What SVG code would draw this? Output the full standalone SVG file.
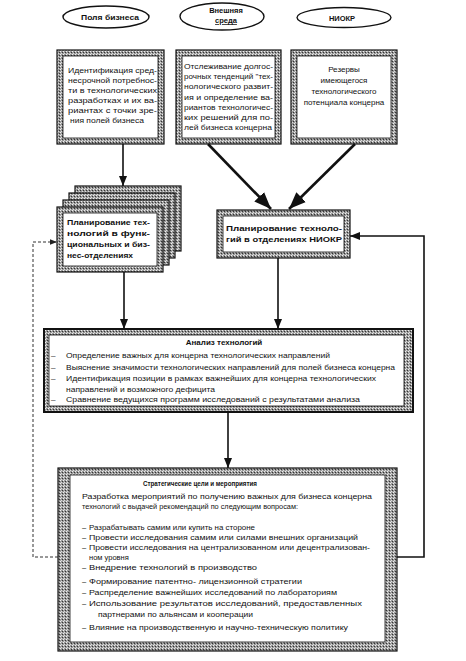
<svg xmlns="http://www.w3.org/2000/svg" width="466" height="661" viewBox="0 0 466 661">
<style>
text{font-family:"Liberation Sans","DejaVu Sans",Arial,sans-serif;fill:#111}
.t{font-size:8px}
.b{font-size:8px;font-weight:bold}
.s{font-size:7.5px}
.el{fill:#fff;stroke:#111;stroke-width:1.4}
.frame{fill:url(#halftone);stroke:#111;stroke-width:1.2}
.inner{fill:#fff;stroke:#111;stroke-width:0.8}
.ln{fill:none;stroke:#111;stroke-width:1.6}
.thick{fill:none;stroke:#111;stroke-width:2.6}
.dash{fill:none;stroke:#333;stroke-width:1;stroke-dasharray:3 2}
</style>
<defs>
<pattern id="halftone" width="3" height="3" patternUnits="userSpaceOnUse">
<rect width="3" height="3" fill="#9a9a9a"/>
<rect x="0" y="0" width="1" height="1" fill="#f0f0f0"/>
<rect x="2" y="1" width="1" height="1" fill="#333"/>
<rect x="1" y="2" width="1" height="1" fill="#dcdcdc"/>
</pattern>
<marker id="ah" viewBox="0 0 10 8" refX="10" refY="4" markerWidth="10" markerHeight="8" markerUnits="userSpaceOnUse" orient="auto"><path d="M0,0 L10,4 L0,8 z" fill="#111"/></marker>
<marker id="ahBig" viewBox="0 0 10 8" refX="10" refY="4" markerWidth="17" markerHeight="14" markerUnits="userSpaceOnUse" orient="auto"><path d="M0,0 L10,4 L0,8 z" fill="#111"/></marker>
<marker id="ahSmall" viewBox="0 0 10 8" refX="10" refY="4" markerWidth="7" markerHeight="6" markerUnits="userSpaceOnUse" orient="auto"><path d="M0,0 L10,4 L0,8 z" fill="#222"/></marker>
</defs>
<rect width="466" height="661" fill="#fff"/>

<g id="ellipse-business">
<ellipse class="el" cx="106" cy="17" rx="43" ry="11"/>
<text class="b" x="110" y="20" text-anchor="middle" style="font-size:7.5px" textLength="58" lengthAdjust="spacingAndGlyphs">Поля бизнеса</text>
</g>
<g id="ellipse-env">
<ellipse class="el" cx="222" cy="16.5" rx="42" ry="13.5"/>
<text class="b" x="226" y="12.5" text-anchor="middle" style="font-size:7.5px">Внешняя</text>
<text class="b" x="226" y="23" text-anchor="middle" style="font-size:7.5px" text-decoration="underline">среда</text>
</g>
<g id="ellipse-rnd">
<ellipse class="el" cx="344" cy="17.5" rx="47" ry="10"/>
<text class="b" x="342" y="20.5" text-anchor="middle" style="font-size:7.5px">НИОКР</text>
</g>

<g id="box-identification">
<rect class="frame" x="57" y="50" width="107" height="94"/>
<rect class="inner" x="63" y="56" width="95" height="82"/>
<text class="t" x="68" y="73" textLength="89" lengthAdjust="spacingAndGlyphs">Идентификация сред-</text>
<text class="t" x="68" y="83" textLength="89" lengthAdjust="spacingAndGlyphs">несрочной потребнос-</text>
<text class="t" x="68" y="93" textLength="89" lengthAdjust="spacingAndGlyphs">ти в технологических</text>
<text class="t" x="68" y="103" textLength="89" lengthAdjust="spacingAndGlyphs">разработках и их ва-</text>
<text class="t" x="68" y="113" textLength="89" lengthAdjust="spacingAndGlyphs">риантах с точки зре-</text>
<text class="t" x="70" y="123" textLength="74" lengthAdjust="spacingAndGlyphs">ния полей бизнеса</text>
</g>

<g id="box-trends">
<rect class="frame" x="176" y="50" width="105" height="94"/>
<rect class="inner" x="182" y="56" width="93" height="82"/>
<text class="t" x="184" y="69" textLength="89" lengthAdjust="spacingAndGlyphs">Отслеживание долгос-</text>
<text class="t" x="184" y="79.2" textLength="89" lengthAdjust="spacingAndGlyphs">рочных тенденций "тех-</text>
<text class="t" x="184" y="89.4" textLength="89" lengthAdjust="spacingAndGlyphs">нологического развит-</text>
<text class="t" x="184" y="99.6" textLength="89" lengthAdjust="spacingAndGlyphs">ия и определение ва-</text>
<text class="t" x="184" y="109.8" textLength="89" lengthAdjust="spacingAndGlyphs">риантов технологичес-</text>
<text class="t" x="184" y="120" textLength="89" lengthAdjust="spacingAndGlyphs">ких решений для по-</text>
<text class="t" x="184" y="130.2" textLength="88" lengthAdjust="spacingAndGlyphs">лей бизнеса концерна</text>
</g>

<g id="box-reserves">
<rect class="frame" x="291" y="50" width="106" height="94"/>
<rect class="inner" x="297" y="56" width="94" height="82"/>
<text class="t" x="344" y="72" text-anchor="middle">Резервы</text>
<text class="t" x="344" y="83" text-anchor="middle">имеющегося</text>
<text class="t" x="344" y="94" text-anchor="middle">технологического</text>
<text class="t" x="344" y="105" text-anchor="middle">потенциала концерна</text>
</g>

<g id="box-planning-business">
<rect class="frame" x="75" y="186" width="106" height="65"/>
<rect class="frame" x="69" y="193" width="106" height="65"/>
<rect class="frame" x="63" y="200" width="106" height="65"/>
<rect class="frame" x="57" y="207" width="106" height="65"/>
<rect class="inner" x="63" y="213" width="94" height="53"/>
<text class="b" x="67" y="225" textLength="83" lengthAdjust="spacingAndGlyphs">Планирование тех-</text>
<text class="b" x="67" y="236" textLength="83" lengthAdjust="spacingAndGlyphs">нологий в функ-</text>
<text class="b" x="67" y="247" textLength="83" lengthAdjust="spacingAndGlyphs">циональных и биз-</text>
<text class="b" x="67" y="258" textLength="66" lengthAdjust="spacingAndGlyphs">нес-отделениях</text>
</g>

<g id="box-planning-rnd">
<rect class="frame" x="217" y="210" width="133" height="48"/>
<rect class="inner" x="223" y="216" width="121" height="36"/>
<text class="b" x="226" y="231" textLength="116" lengthAdjust="spacingAndGlyphs">Планирование техноло-</text>
<text class="b" x="226" y="242" textLength="116" lengthAdjust="spacingAndGlyphs">гий в отделениях НИОКР</text>
</g>

<g id="box-analysis">
<rect class="frame" x="44" y="329" width="369" height="83" style="stroke-width:2"/>
<rect class="inner" x="49" y="335" width="355" height="71"/>
<text class="b" x="224" y="345" text-anchor="middle">Анализ технологий</text>
<text class="t" x="51" y="358">–</text>
<text class="s" x="66" y="358" style="font-size:7px" textLength="264" lengthAdjust="spacingAndGlyphs">Определение важных для концерна технологических направлений</text>
<text class="t" x="51" y="369.5">–</text>
<text class="t" x="66" y="369.5" textLength="329" lengthAdjust="spacingAndGlyphs">Выяснение значимости технологических направлений для полей бизнеса концерна</text>
<text class="t" x="51" y="381">–</text>
<text class="s" x="66" y="381" style="font-size:7px" textLength="310" lengthAdjust="spacingAndGlyphs">Идентификация позиции в рамках важнейших для концерна технологических</text>
<text class="s" x="66" y="391.5" style="font-size:7px" textLength="149" lengthAdjust="spacingAndGlyphs">направлений и возможного дефицита</text>
<text class="t" x="51" y="402">–</text>
<text class="t" x="66" y="402" textLength="294" lengthAdjust="spacingAndGlyphs">Сравнение ведущихся программ исследований с результатами анализа</text>
</g>

<g id="box-strategy">
<rect class="frame" x="58" y="468" width="339" height="183"/>
<rect class="inner" x="70" y="475" width="315" height="167"/>
<text class="b" x="200" y="486" text-anchor="middle" textLength="114" lengthAdjust="spacingAndGlyphs">Стратегические цели и мероприятия</text>
<text class="s" x="82" y="499" textLength="290" lengthAdjust="spacingAndGlyphs">Разработка мероприятий по получению важных для бизнеса концерна</text>
<text class="s" x="82" y="508.5" style="font-size:7px" textLength="216" lengthAdjust="spacingAndGlyphs">технологий с выдачей рекомендаций по следующим вопросам:</text>
<text class="s" x="82" y="530">–</text>
<text class="s" x="89" y="530" textLength="166" lengthAdjust="spacingAndGlyphs">Разрабатывать самим или купить на стороне</text>
<text class="s" x="82" y="540">–</text>
<text class="s" x="89" y="540" textLength="269" lengthAdjust="spacingAndGlyphs">Провести исследования самим или силами внешних организаций</text>
<text class="s" x="82" y="550">–</text>
<text class="s" x="89" y="550" textLength="281" lengthAdjust="spacingAndGlyphs">Провести исследования на централизованном или децентрализован-</text>
<text class="s" x="89" y="559.5">ном  уровня</text>
<text class="s" x="82" y="570">–</text>
<text class="s" x="89" y="570" style="font-size:7px" textLength="168" lengthAdjust="spacingAndGlyphs">Внедрение технологий в производство</text>
<text class="s" x="82" y="583.5">–</text>
<text class="s" x="89" y="583.5" textLength="213" lengthAdjust="spacingAndGlyphs">Формирование патентно- лицензионной стратегии</text>
<text class="s" x="82" y="595">–</text>
<text class="s" x="89" y="595" textLength="248" lengthAdjust="spacingAndGlyphs">Распределение важнейших исследований по лабораториям</text>
<text class="s" x="82" y="605.5">–</text>
<text class="s" x="89" y="605.5" style="font-size:7px" textLength="273" lengthAdjust="spacingAndGlyphs">Использование результатов исследований, предоставленных</text>
<text class="t" x="98" y="616.5" textLength="155" lengthAdjust="spacingAndGlyphs">партнерами по альянсам и кооперации</text>
<text class="s" x="82" y="629.5">–</text>
<text class="s" x="89" y="629.5" style="font-size:6.5px" textLength="259" lengthAdjust="spacingAndGlyphs">Влияние на производственную и научно-техническую политику</text>
</g>

<g id="connectors">
<line class="ln" x1="123" y1="144" x2="123" y2="186" marker-end="url(#ah)"/>
<line class="thick" x1="208" y1="144" x2="271" y2="209" marker-end="url(#ahBig)"/>
<line class="thick" x1="355" y1="144" x2="289" y2="209" marker-end="url(#ahBig)"/>
<line class="ln" x1="124" y1="272" x2="124" y2="329" marker-end="url(#ah)"/>
<line class="ln" x1="278" y1="258" x2="278" y2="329" marker-end="url(#ah)"/>
<line class="ln" x1="228" y1="412" x2="228" y2="468" marker-end="url(#ah)"/>
<polyline class="ln" points="397,557 424,557 424,236 350,236" marker-end="url(#ah)"/>
<polyline class="dash" points="58,557 33,557 33,242 57,242" marker-end="url(#ahSmall)"/>
</g>
</svg>
